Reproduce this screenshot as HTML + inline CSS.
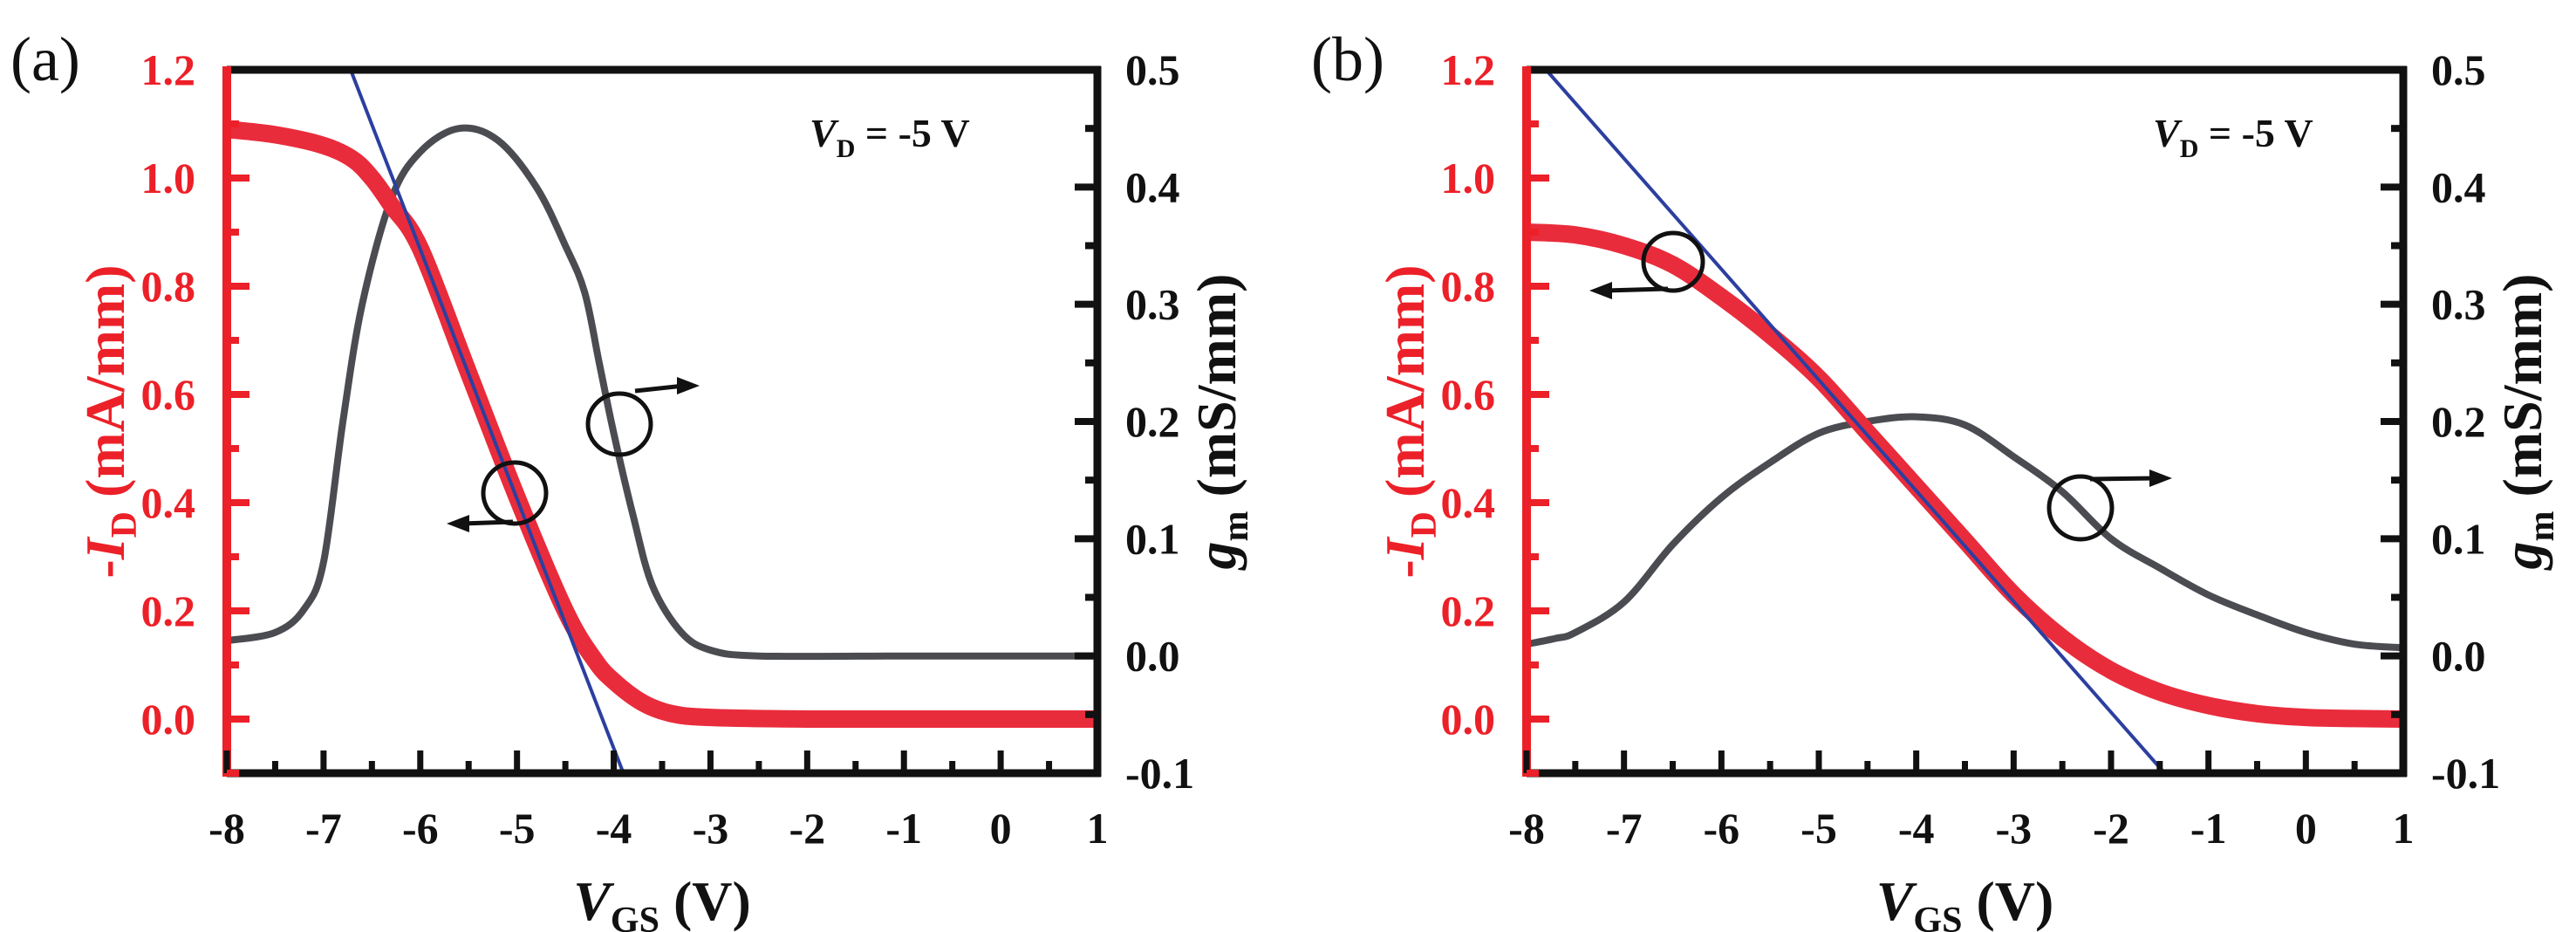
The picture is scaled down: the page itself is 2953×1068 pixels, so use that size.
<!DOCTYPE html>
<html><head><meta charset="utf-8"><style>
html,body{margin:0;padding:0;background:#fff}
svg{display:block}
text{font-family:"Liberation Serif","Times New Roman","DejaVu Serif",serif}
</style></head><body>
<svg id="fig" width="2953" height="1068" viewBox="0 0 2953 1068" xmlns="http://www.w3.org/2000/svg" font-family="'Liberation Serif', 'DejaVu Serif', serif"></svg>
<script>
// Panel (a) data
const aVgs = [-8,-7.5,-7,-6.7,-6.5,-6.3,-6,-5.5,-5,-4.5,-4.2,-4,-3.7,-3.4,-3,-2,-1,0,1];
const aId  = [1.09,1.08,1.06,1.035,1.0,0.95,0.87,0.64,0.41,0.2,0.11,0.07,0.03,0.01,0.003,0,0,0,0];
const aGmV = [-8,-7.5,-7.2,-7,-6.8,-6.6,-6.3,-6,-5.6,-5.2,-4.8,-4.5,-4.3,-4.15,-4,-3.8,-3.6,-3.3,-3,-2.5,-1,0,1];
const aGm  = [0.013,0.02,0.04,0.08,0.2,0.3,0.39,0.43,0.45,0.44,0.40,0.35,0.31,0.25,0.19,0.12,0.06,0.02,0.005,0,0,0,0];
const aFitV = [-6.72,-3.9];
const aFitI = [1.2,-0.1];
// Panel (b) data
const bVgs = [-8,-7.5,-7,-6.5,-6,-5.5,-5,-4.5,-4,-3.5,-3,-2.5,-2,-1.5,-1,-0.5,0,0.5,1];
const bId  = [0.90,0.895,0.875,0.84,0.78,0.71,0.63,0.53,0.43,0.33,0.23,0.15,0.09,0.05,0.025,0.01,0.003,0.001,0];
const bGmV = [-8,-7.7,-7.5,-7,-6.5,-6,-5.5,-5,-4.5,-4,-3.5,-3,-2.5,-2,-1.5,-1,-0.5,0,0.5,1];
const bGm  = [0.01,0.015,0.02,0.046,0.095,0.135,0.165,0.19,0.2,0.204,0.197,0.17,0.14,0.10,0.075,0.052,0.035,0.02,0.01,0.007];
const bFitV = [-7.8,-1.45];
const bFitI = [1.2,-0.1];
const xTicks = [-8,-7,-6,-5,-4,-3,-2,-1,0,1];
const idTicks = ["0.0","0.2","0.4","0.6","0.8","1.0","1.2"];
const gmTicks = ["-0.1","0.0","0.1","0.2","0.3","0.4","0.5"];

const NS="http://www.w3.org/2000/svg";
const svg=document.getElementById('fig');
const FF="'Liberation Serif', 'DejaVu Serif', serif";
function el(tag,attrs,parent,txt){const e=document.createElementNS(NS,tag);for(const k in attrs)e.setAttribute(k,attrs[k]);if(tag==='text')e.setAttribute('font-family',FF);if(txt!==undefined)e.textContent=txt;(parent||svg).appendChild(e);return e;}
function smooth(pts){let d='M'+pts[0][0]+','+pts[0][1];for(let i=0;i<pts.length-1;i++){const p0=pts[Math.max(0,i-1)],p1=pts[i],p2=pts[i+1],p3=pts[Math.min(pts.length-1,i+2)];const c1=[p1[0]+(p2[0]-p0[0])/6,p1[1]+(p2[1]-p0[1])/6],c2=[p2[0]-(p3[0]-p1[0])/6,p2[1]-(p3[1]-p1[1])/6];d+=' C'+c1[0].toFixed(1)+','+c1[1].toFixed(1)+' '+c2[0].toFixed(1)+','+c2[1].toFixed(1)+' '+p2[0].toFixed(1)+','+p2[1].toFixed(1);}return d;}

function panel(cfg){
  const {L,R,T,B,name}=cfg;
  const g=el('g',{});  
  const xs=v=>L+(v+8)/9*(R-L);
  const yi=v=>B-(v+0.1)/1.3*(B-T);
  const yg=v=>B-(v+0.1)/0.6*(B-T);
  const clipId='clip'+name;
  const cp=el('clipPath',{id:clipId},g); el('rect',{x:L,y:T,width:R-L,height:B-T},cp);
  const gm=el('path',{d:smooth(cfg.gmV.map((v,i)=>[xs(v),yg(cfg.gm[i])])),fill:'none',stroke:'#4b4c51','stroke-width':8,'clip-path':'url(#'+clipId+')'},g);
   
  const id=el('path',{d:smooth(cfg.vgs.map((v,i)=>[xs(v),yi(cfg.id[i])])),fill:'none',stroke:'#e92c3c','stroke-width':20,'stroke-linecap':'round','clip-path':'url(#'+clipId+')'},g);
   
  const fit=el('line',{x1:xs(cfg.fitV[0]),y1:yi(cfg.fitI[0]),x2:xs(cfg.fitV[1]),y2:yi(cfg.fitI[1]),stroke:'#2c3fa0','stroke-width':4},g);
   
  const ax=el('g',{},g);  
  el('line',{x1:L,y1:T,x2:R+4,y2:T,stroke:'#111','stroke-width':9},ax);
  el('line',{x1:L,y1:B,x2:R+4,y2:B,stroke:'#111','stroke-width':9},ax);
  el('line',{x1:R,y1:T-4,x2:R,y2:B+4,stroke:'#111','stroke-width':9},ax);
  el('line',{x1:L,y1:T-4,x2:L,y2:B+4,stroke:'#ec2028','stroke-width':10},ax);
  for(let v=-8;v<=1.001;v+=0.5){const maj=Math.abs(v-Math.round(v))<0.01;const x=xs(v);el('line',{x1:x,y1:B,x2:x,y2:B-(maj?26:14),stroke:'#111','stroke-width':7},ax);}
  xTicks.forEach(v=>{const t=el('text',{x:xs(v),y:B+80,'text-anchor':'middle','font-size':50,'font-weight':'bold',fill:'#111'},g,String(v));});
  for(let k=0;k<13;k++){const v=-0.1+0.1*k;const y=yi(v);const maj=(k%2===1);el('line',{x1:L,y1:y,x2:L+(maj?26:14),y2:y,stroke:'#ec2028','stroke-width':8},ax);}
  idTicks.forEach(s=>{const t=el('text',{x:L-36,y:yi(parseFloat(s))+17,'text-anchor':'end','font-size':50,'font-weight':'bold',fill:'#ec2028'},g,s);});
  for(let k=0;k<=12;k++){const v=-0.1+0.05*k;const y=yg(v);const maj=(k%2===0);el('line',{x1:R,y1:y,x2:R-(maj?26:14),y2:y,stroke:'#111','stroke-width':8},ax);}
  gmTicks.forEach(s=>{const t=el('text',{x:R+32,y:yg(parseFloat(s))+17,'text-anchor':'start','font-size':50,'font-weight':'bold',fill:'#111'},g,s);});
  const cx=(L+R)/2;
  const xt=el('text',{x:cx,y:B+168,'text-anchor':'middle','font-size':64,'font-weight':'bold',fill:'#111'},g);
   
  el('tspan',{'font-style':'italic'},xt,'V');el('tspan',{'font-size':42,dy:14},xt,'GS');el('tspan',{dy:-14},xt,' (V)');
  const cy=(T+B)/2;
  const lt=el('text',{x:0,y:0,transform:'translate('+(L-118)+','+cy+') rotate(-90)','text-anchor':'middle','font-size':64,'font-weight':'bold',fill:'#ec2028'},g);
   
  el('tspan',{},lt,'-');el('tspan',{'font-style':'italic'},lt,'I');el('tspan',{'font-size':42,dy:14},lt,'D');el('tspan',{dy:-14},lt,' (mA/mm)');
  const rt=el('text',{x:0,y:0,transform:'translate('+(R+158)+','+cy+') rotate(-90)','text-anchor':'middle','font-size':64,'font-weight':'bold',fill:'#111'},g);
   
  el('tspan',{'font-style':'italic'},rt,'g');el('tspan',{'font-size':42,dy:14},rt,'m');el('tspan',{dy:-14},rt,' (mS/mm)');
  const an=el('text',{x:cfg.annX,y:T+88,'font-size':46,'font-weight':'bold',fill:'#111'},g);
   
  el('tspan',{'font-style':'italic'},an,'V');el('tspan',{'font-size':30,dy:12},an,'D');el('tspan',{dy:-12},an,' = -5 V');
  const pl=el('text',{x:cfg.labX,y:92,'font-size':72,fill:'#111'},g,cfg.lab);
   
  cfg.marks.forEach(m=>{
    const mg=el('g',{},g);  
    el('ellipse',{cx:m.cx,cy:m.cy,rx:m.rx,ry:m.ry,fill:'none',stroke:'#111','stroke-width':5},mg);
    el('line',{x1:m.x1,y1:m.y1,x2:m.x2+(m.x2>m.x1?-18:18),y2:m.y2,stroke:'#111','stroke-width':5},mg);
    const d=m.x2>m.x1?1:-1;
    el('polygon',{points:(m.x2)+','+m.y2+' '+(m.x2-d*26)+','+(m.y2-10)+' '+(m.x2-d*26)+','+(m.y2+10),fill:'#111'},mg);
  });
}
panel({name:'a',L:260,R:1258,T:80,B:886,vgs:aVgs,id:aId,gmV:aGmV,gm:aGm,fitV:aFitV,fitI:aFitI,annX:928,labX:12,lab:'(a)',
  marks:[{n:'gm-axis-marker',cx:710,cy:486,rx:36,ry:35,x1:728,y1:448,x2:802,y2:442},
         {n:'id-axis-marker',cx:590,cy:565,rx:36,ry:35,x1:588,y1:598,x2:512,y2:600}]});
panel({name:'b',L:1750,R:2755,T:80,B:886,vgs:bVgs,id:bId,gmV:bGmV,gm:bGm,fitV:bFitV,fitI:bFitI,annX:2468,labX:1503,lab:'(b)',
  marks:[{n:'id-axis-marker',cx:1918,cy:300,rx:34,ry:33,x1:1912,y1:331,x2:1822,y2:333},
         {n:'gm-axis-marker',cx:2385,cy:582,rx:36,ry:36,x1:2396,y1:549,x2:2490,y2:548}]});
</script>
</body></html>
